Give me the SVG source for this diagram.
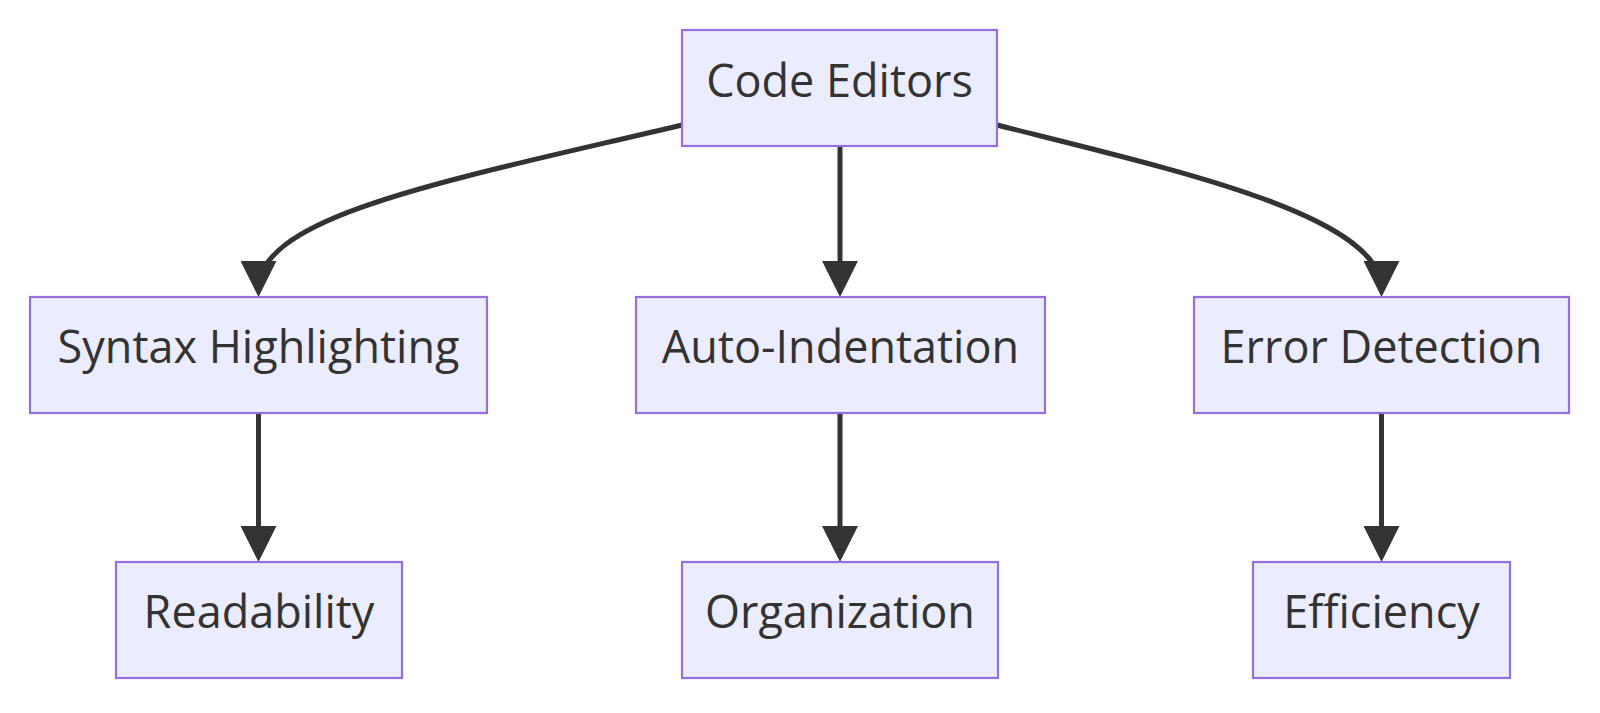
<svg xmlns="http://www.w3.org/2000/svg" width="1600" height="713" viewBox="0 0 1600 713">
<style>
.node rect{fill:#ECECFF;stroke:#9370DB;stroke-width:2.2}
.node text{font-family:"Open Sans","Liberation Sans",sans-serif;font-size:45px;fill:#333;text-anchor:middle}
.edge{fill:none;stroke:#333;stroke-width:5}
</style>
<defs>
<marker id="arrow" viewBox="0 0 10 10" refX="7.8" refY="5" markerWidth="36" markerHeight="36" markerUnits="userSpaceOnUse" orient="auto">
<path d="M0,0 L10,5 L0,10 z" fill="#333"/>
</marker>
</defs>
<rect width="1600" height="713" fill="#fff"/>
<g id="connectors">
<path class="edge" d="M682,125 C450,180 258.5,215 258.5,289" marker-end="url(#arrow)"/>
<path class="edge" d="M840,146 L840,289" marker-end="url(#arrow)"/>
<path class="edge" d="M997,125 C1175,170 1381.5,215 1381.5,289" marker-end="url(#arrow)"/>
<path class="edge" d="M258.5,413 L258.5,554" marker-end="url(#arrow)"/>
<path class="edge" d="M840,413 L840,554" marker-end="url(#arrow)"/>
<path class="edge" d="M1381.5,413 L1381.5,554" marker-end="url(#arrow)"/>
</g>
<g id="code-editors" class="node"><rect x="682" y="30" width="315" height="116"/><text x="839.5" y="97">Code Editors</text></g>
<g id="syntax-highlighting" class="node"><rect x="30" y="297" width="457" height="116"/><text x="258.5" y="363">Syntax Highlighting</text></g>
<g id="auto-indentation" class="node"><rect x="636" y="297" width="409" height="116"/><text x="840.5" y="363">Auto-Indentation</text></g>
<g id="error-detection" class="node"><rect x="1194" y="297" width="375" height="116"/><text x="1381.5" y="363">Error Detection</text></g>
<g id="readability" class="node"><rect x="116" y="562" width="286" height="116"/><text x="259" y="628">Readability</text></g>
<g id="organization" class="node"><rect x="682" y="562" width="316" height="116"/><text x="840" y="628">Organization</text></g>
<g id="efficiency" class="node"><rect x="1253" y="562" width="257" height="116"/><text x="1381.5" y="628">Efficiency</text></g>
</svg>
